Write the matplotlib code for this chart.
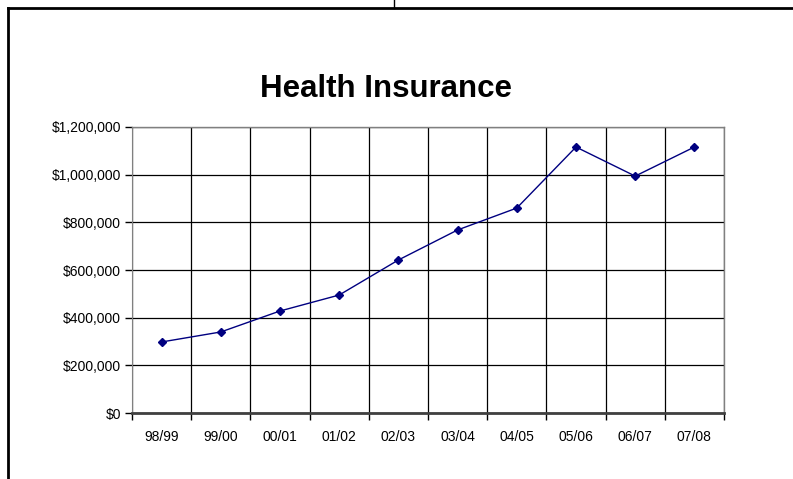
import matplotlib.pyplot as plt
from matplotlib.lines import Line2D
from matplotlib.ticker import FuncFormatter

plt.rcParams["font.family"] = ["Liberation Sans", "DejaVu Sans"]

years = ["98/99", "99/00", "00/01", "01/02", "02/03", "03/04", "04/05", "05/06", "06/07", "07/08"]
cost = [298000, 340000, 428000, 495000, 642000, 768000, 860000, 1116000, 994000, 1116000]
y_ticks = [0, 200000, 400000, 600000, 800000, 1000000, 1200000]

W, H = 793, 479
fig = plt.figure(figsize=(W / 100, H / 100), dpi=100)
ax = fig.add_axes([132 / W, 1 - 413 / H, (724 - 132) / W, (413 - 127) / H])

x = range(len(years))
ax.plot(x, cost, color="#000080", lw=1, marker="D", ms=4.5, zorder=3)

ax.set_xlim(-0.5, len(years) - 0.5)
ax.set_ylim(0, 1200000)
ax.set_yticks(y_ticks)
ax.yaxis.set_major_formatter(FuncFormatter(lambda v, pos: f"${v:,.0f}"))

# category boundaries as grid/tick positions
ax.set_xticks([i - 0.5 for i in range(len(years) + 1)])
ax.set_xticklabels([])
ax.set_xticks(list(x), minor=True)
ax.set_xticklabels(years, minor=True)
ax.tick_params(axis="x", which="minor", length=0, pad=12, labelsize=10)
ax.tick_params(axis="x", which="major", length=5, width=1, color="#000000")
ax.tick_params(axis="y", length=5, width=1, labelsize=10, pad=3)

ax.grid(True, which="major", color="#000000", lw=0.9)
ax.set_axisbelow(True)
for side in ["top", "right"]:
    ax.spines[side].set_color("#808080")
    ax.spines[side].set_linewidth(1)
ax.spines["left"].set_color("#808080")
ax.spines["bottom"].set_color("#404040")
ax.spines["bottom"].set_linewidth(2)

fig.text(386 / W, 1 - 89 / H, "Health Insurance", ha="center", va="center",
         fontsize=22.5, fontweight="bold")

# outer frame pieces of the chart box
fig.add_artist(Line2D([7.5 / W, 1], [1 - 8 / H, 1 - 8 / H], color="black", lw=2))
fig.add_artist(Line2D([7.5 / W, 7.5 / W], [0, 1 - 8 / H], color="black", lw=2))
fig.add_artist(Line2D([394 / W, 394 / W], [1 - 8 / H, 1], color="black", lw=1))

fig.savefig("out.png", dpi=100)
